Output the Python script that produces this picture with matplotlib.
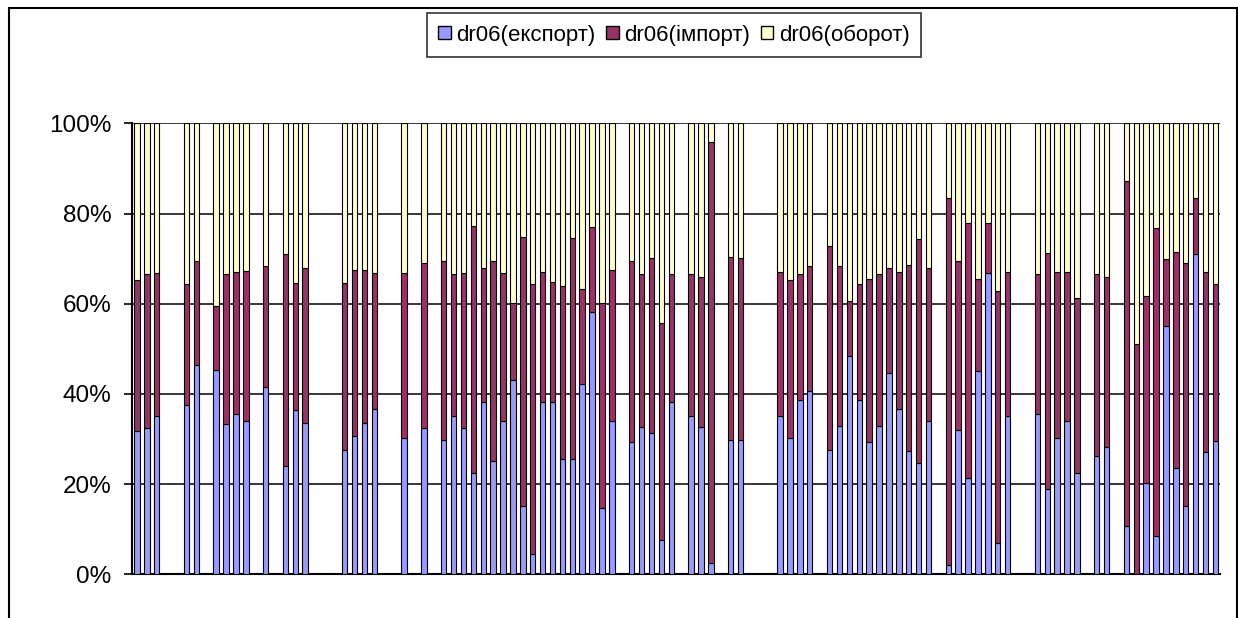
import matplotlib
matplotlib.use("Agg")
import matplotlib.pyplot as plt
from matplotlib.patches import Patch, Rectangle
import numpy as np

# category slots that have data (110 slots, 0..109, the others are empty)
slots = [0, 1, 2, 5, 6, 8, 9, 10, 11, 13, 15, 16, 17, 21, 22, 23, 24, 27, 29, 31,
         32, 33, 34, 35, 36, 37, 38, 39, 40, 41, 42, 43, 44, 45, 46, 47, 48, 50, 51, 52,
         53, 54, 56, 57, 58, 60, 61, 65, 66, 67, 68, 70, 71, 72, 73, 74, 75, 76, 77, 78,
         79, 80, 82, 83, 84, 85, 86, 87, 88, 91, 92, 93, 94, 95, 97, 98, 100, 101, 102, 103,
         104, 105, 106, 107, 108, 109]

export = [31.8, 32.4, 35.0, 37.5, 46.3, 45.2, 33.3, 35.5, 33.9, 41.6, 24.0, 36.4, 33.5, 27.6, 30.7, 33.5, 36.6, 30.3, 32.4, 29.8,
          35.0, 32.4, 22.5, 38.1, 25.1, 33.9, 43.1, 15.2, 4.4, 38.1, 38.1, 25.6, 25.6, 42.1, 58.2, 14.8, 33.9, 29.3, 32.7, 31.3,
          7.5, 38.1, 35.0, 32.7, 2.4, 29.8, 29.8, 35.0, 30.3, 38.7, 40.7, 27.6, 32.9, 48.3, 38.7, 29.3, 32.9, 44.7, 36.6, 27.3,
          24.6, 33.9, 2.1, 31.9, 21.4, 45.1, 66.9, 7.0, 35.0, 35.5, 18.9, 30.3, 33.9, 22.5, 26.3, 28.2, 10.7, 0.0, 20.3, 8.6,
          55.1, 23.5, 15.2, 71.0, 27.2, 29.6]

imports = [33.5, 34.1, 31.9, 26.8, 23.2, 14.4, 33.2, 31.5, 33.4, 26.8, 47.0, 28.3, 34.5, 37.1, 36.8, 34.0, 30.3, 36.6, 36.6, 39.7,
           31.5, 34.5, 54.8, 29.9, 44.4, 33.0, 17.1, 59.5, 60.0, 28.9, 26.8, 38.3, 49.0, 21.2, 18.7, 45.4, 33.6, 40.2, 33.8, 38.9,
           48.2, 28.4, 31.5, 33.3, 93.4, 40.6, 40.3, 32.0, 35.0, 27.8, 27.7, 45.1, 35.5, 12.4, 25.7, 36.1, 33.6, 23.3, 30.4, 41.3,
           49.7, 34.1, 81.3, 37.6, 56.4, 20.3, 10.9, 55.8, 32.0, 31.0, 52.3, 36.7, 33.1, 38.7, 40.2, 37.8, 76.4, 51.0, 41.5, 68.1,
           14.8, 48.0, 53.8, 12.4, 39.8, 34.8]

turnover = [34.7, 33.5, 33.1, 35.7, 30.5, 40.4, 33.5, 33.0, 32.7, 31.6, 29.0, 35.3, 32.0, 35.3, 32.5, 32.5, 33.1, 33.1, 31.0, 30.5,
            33.5, 33.1, 22.7, 32.0, 30.5, 33.1, 39.8, 25.3, 35.6, 33.0, 35.1, 36.1, 25.4, 36.7, 23.1, 39.8, 32.5, 30.5, 33.5, 29.8,
            44.3, 33.5, 33.5, 34.0, 4.2, 29.6, 29.9, 33.0, 34.7, 33.5, 31.6, 27.3, 31.6, 39.3, 35.6, 34.6, 33.5, 32.0, 33.0, 31.4,
            25.7, 32.0, 16.6, 30.5, 22.2, 34.6, 22.2, 37.2, 33.0, 33.5, 28.8, 33.0, 33.0, 38.8, 33.5, 34.0, 12.9, 49.0, 38.2, 23.3,
            30.1, 28.5, 31.0, 16.6, 33.0, 35.6]

N_SLOTS = 110
labels = ["dr06(експорт)", "dr06(імпорт)", "dr06(оборот)"]
colors = ["#9999FF", "#993366", "#FFFFCC"]
yticks = [0, 20, 40, 60, 80, 100]

plt.rcParams["font.family"] = ["Liberation Sans", "DejaVu Sans"]

# percent stacked, like Excel does it
data = np.array([export, imports, turnover], dtype=float)
data = data / data.sum(axis=0) * 100
x = np.array(slots)

fig = plt.figure(figsize=(12.38, 6.18), dpi=100)
ax = fig.add_axes([132 / 1238, 1 - 574.3 / 618, (1220.4 - 132) / 1238, (574.3 - 123.3) / 618])

bottom = np.zeros(len(slots))
for vals, col, lab in zip(data, colors, labels):
    ax.bar(x, vals, bottom=bottom, width=0.55, color=col, edgecolor="black",
           linewidth=0.8, label=lab, zorder=3)
    bottom += vals

ax.set_xlim(-0.5, N_SLOTS - 0.5)
ax.set_ylim(0, 100)
ax.set_yticks(yticks)
ax.set_yticklabels([f"{v}%" for v in yticks], fontsize=17.5)
ax.set_xticks([])
ax.yaxis.grid(True, color="black", linewidth=1.1)
ax.set_axisbelow(True)
ax.tick_params(axis="y", direction="out", length=5.5, width=1.2, pad=9.5)
for side in ["top", "right"]:
    ax.spines[side].set_visible(False)
for side in ["left", "bottom"]:
    ax.spines[side].set_linewidth(1.5)

handles = [Patch(facecolor=c, edgecolor="black", linewidth=1.0, label=l) for c, l in zip(colors, labels)]
leg = fig.legend(handles=handles, loc="center", bbox_to_anchor=(674 / 1238, 1 - 35 / 618),
                 ncol=3, fontsize=16, frameon=True, fancybox=False, edgecolor="black",
                 handlelength=0.55, handleheight=0.55, handletextpad=0.25,
                 columnspacing=0.5, borderpad=0.5, borderaxespad=0)
leg.get_frame().set_linewidth(1.2)

# outer chart border
fig.patches.append(Rectangle((9 / 1238, -0.05), (1236.5 - 9) / 1238, 1.05 - 8 / 618,
                             transform=fig.transFigure, fill=False, edgecolor="black",
                             linewidth=1.5))

fig.savefig("out.png", dpi=100)
